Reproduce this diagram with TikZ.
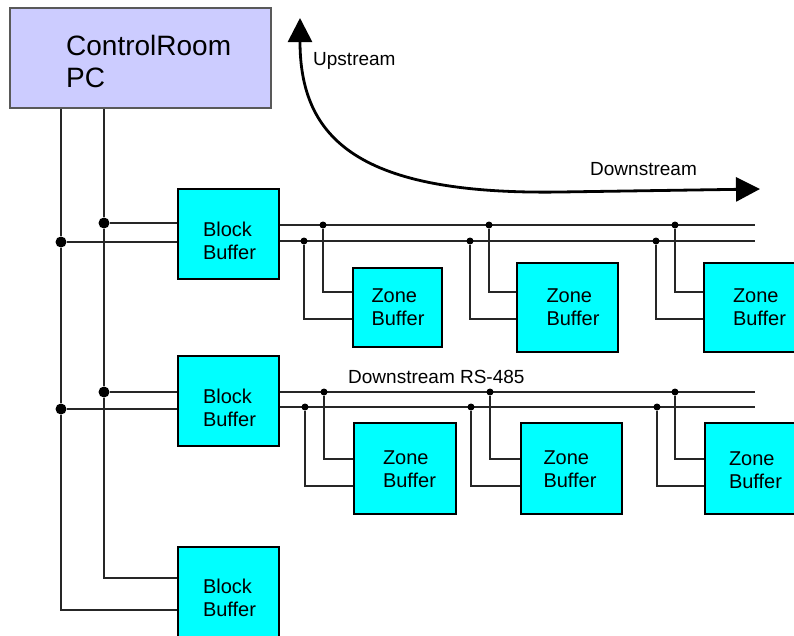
\documentclass[tikz,border=0pt]{standalone}
\usepackage{fontspec}
\setmainfont{Liberation Sans}
\usetikzlibrary{arrows.meta}
\definecolor{pcfill}{HTML}{CCCCFF}
\definecolor{buffill}{HTML}{00FFFF}
\begin{document}
\begin{tikzpicture}[x=1pt,y=-1pt,
  bufbox/.style={draw=black, line width=1.2pt, fill=buffill, inner sep=0pt},
  pcbox/.style={draw=black!65, line width=1.2pt, fill=pcfill, inner sep=0pt, minimum width=261pt, minimum height=100pt},
  buftxt/.style={font=\fontsize{20}{23}\selectfont, align=left, inner sep=0pt},
  pctxt/.style={font=\fontsize{28}{32}\selectfont, align=left, inner sep=0pt, anchor=north west},
  lab/.style={font=\fontsize{19}{22}\selectfont, inner sep=0pt, anchor=base west},
  wire/.style={line width=1.2pt, draw=black!85},
  bigdot/.style={circle, fill=black, inner sep=0pt, minimum size=11pt},
  smalldot/.style={circle, fill=black, inner sep=0pt, minimum size=7pt},
  flow/.style={line width=2.8pt, {Triangle[length=24pt,width=24pt]}-{Triangle[length=24pt,width=24pt]}}
]
\clip (0,0) rectangle (794,635);
\fill[white] (0,0) rectangle (794,635);

% ---------------- boxes ----------------
\node[pcbox] (pc) at (140.5,58) {};
\node[pctxt] (pct) at (66,35) {ControlRoom\\PC};

\node[bufbox, minimum width=101pt, minimum height=90pt] (b1) at (228.5,234) {};
\node[bufbox, minimum width=101pt, minimum height=90pt] (b2) at (228.5,401) {};
\node[bufbox, minimum width=101pt, minimum height=90pt] (b3) at (228.5,592) {};
\node[buftxt] (b1t) at (229.5,241) {Block\\Buffer};
\node[buftxt] (b2t) at (229.5,408) {Block\\Buffer};
\node[buftxt] (b3t) at (229.5,598) {Block\\Buffer};

\node[bufbox, minimum width=89pt, minimum height=79pt] (z11) at (397.5,307.5) {};
\node[bufbox, minimum width=101pt, minimum height=89pt] (z12) at (567.5,307.5) {};
\node[bufbox, minimum width=111pt, minimum height=89pt] (z13) at (759.5,307.5) {};
\node[bufbox, minimum width=102pt, minimum height=91pt] (z21) at (405,468.5) {};
\node[bufbox, minimum width=101pt, minimum height=91pt] (z22) at (571.5,468.5) {};
\node[bufbox, minimum width=101pt, minimum height=91pt] (z23) at (755.5,468.5) {};
\node[buftxt] (z11t) at (398,307.5) {Zone\\Buffer};
\node[buftxt] (z12t) at (573,307.5) {Zone\\Buffer};
\node[buftxt] (z13t) at (759.5,307.5) {Zone\\Buffer};
\node[buftxt] (z21t) at (409.5,469.5) {Zone\\Buffer};
\node[buftxt] (z22t) at (570,469.5) {Zone\\Buffer};
\node[buftxt] (z23t) at (755.5,470) {Zone\\Buffer};

% ---------------- helper coordinates ----------------
\coordinate (L) at (61,0);
\coordinate (R) at (104,0);
\coordinate (y578) at (0,578);
\coordinate (y610) at (0,610);
\coordinate (y292) at (0,292);
\coordinate (y319) at (0,319);
\coordinate (y459) at (0,459);
\coordinate (y486) at (0,486);
\coordinate (e1t) at (755,225);
\coordinate (e1b) at (755,241);
\coordinate (e2t) at (755,392);
\coordinate (e2b) at (755,407);

% ---------------- PC trunk ----------------
\node[bigdot] (jR1) at (104,223) {};
\node[bigdot] (jL1) at (61,242) {};
\node[bigdot] (jR2) at (104,392) {};
\node[bigdot] (jL2) at (61,409) {};

\draw[wire] (pc.south -| L) -- (jL1) -- (jL2) |- (b3.west |- y610);
\draw[wire] (pc.south -| R) -- (jR1) -- (jR2) |- (b3.west |- y578);
\draw[wire] (jR1) -- (jR1 -| b1.west);
\draw[wire] (jL1) -- (jL1 -| b1.west);
\draw[wire] (jR2) -- (jR2 -| b2.west);
\draw[wire] (jL2) -- (jL2 -| b2.west);

% ---------------- bus row 1 ----------------
\draw[wire] (b1.east |- e1t) -- (e1t);
\draw[wire] (b1.east |- e1b) -- (e1b);
\node[smalldot] (t11) at (323,225) {};
\node[smalldot] (t12) at (489,225) {};
\node[smalldot] (t13) at (675,225) {};
\node[smalldot] (u11) at (304,241) {};
\node[smalldot] (u12) at (470,241) {};
\node[smalldot] (u13) at (656,241) {};
\draw[wire] (t11) |- (z11.west |- y292);
\draw[wire] (u11) |- (z11.west |- y319);
\draw[wire] (t12) |- (z12.west |- y292);
\draw[wire] (u12) |- (z12.west |- y319);
\draw[wire] (t13) |- (z13.west |- y292);
\draw[wire] (u13) |- (z13.west |- y319);

% ---------------- bus row 2 ----------------
\draw[wire] (b2.east |- e2t) -- (e2t);
\draw[wire] (b2.east |- e2b) -- (e2b);
\node[smalldot] (t21) at (324,392) {};
\node[smalldot] (t22) at (490,392) {};
\node[smalldot] (t23) at (675,392) {};
\node[smalldot] (u21) at (305,407) {};
\node[smalldot] (u22) at (471,407) {};
\node[smalldot] (u23) at (657,407) {};
\draw[wire] (t21) |- (z21.west |- y459);
\draw[wire] (u21) |- (z21.west |- y486);
\draw[wire] (t22) |- (z22.west |- y459);
\draw[wire] (u22) |- (z22.west |- y486);
\draw[wire] (t23) |- (z23.west |- y459);
\draw[wire] (u23) |- (z23.west |- y486);

% ---------------- flow arrow ----------------
\coordinate (upt) at (300,18);
\coordinate (dnt) at (760,189);
\draw[flow] (upt) .. controls (300,140) and (360,195) .. (560,192) -- (dnt);

% ---------------- labels ----------------
\node[lab] (lup) at (313,65) {Upstream};
\node[lab] (ldown) at (590,175) {Downstream};
\node[lab] (lrs) at (348,383) {Downstream RS-485};
\end{tikzpicture}
\end{document}
